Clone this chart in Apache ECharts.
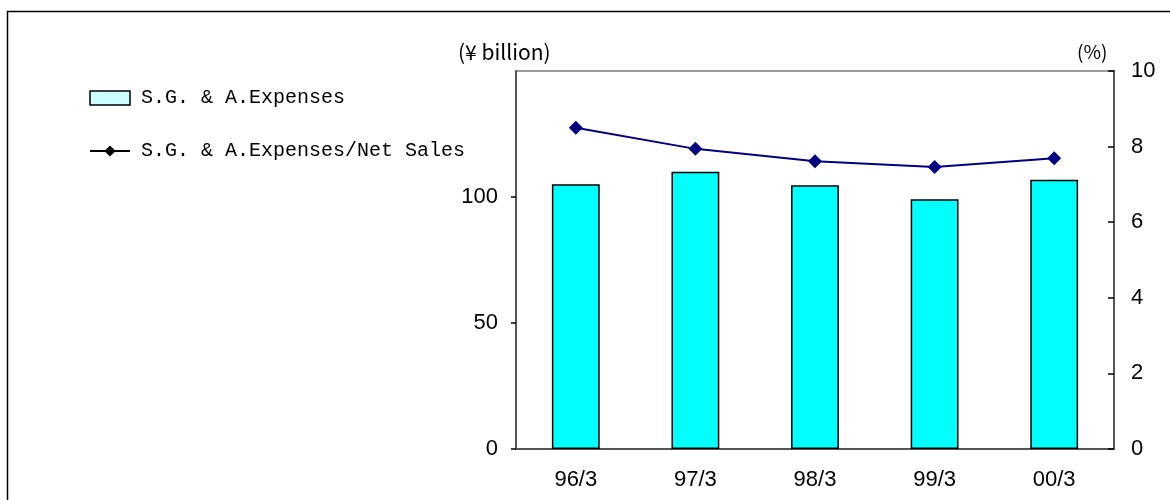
<!DOCTYPE html>
<html>
<head>
<meta charset="utf-8">
<script src="https://cdn.jsdelivr.net/npm/echarts@6/dist/echarts.min.js"></script>
<style>
  html, body { margin: 0; padding: 0; background: #fff; }
  #chart { width: 1170px; height: 500px; }
</style>
</head>
<body>
<div id="chart"></div>
<script>
// Fiscal years (March year-end)
const categories = ['96/3', '97/3', '98/3', '99/3', '00/3'];
// Selling, general & administrative expenses, ¥ billion
const sgaExpenses = [105.1, 110.0, 104.7, 99.1, 106.8];
// SG&A expenses as a share of net sales, %
const sgaRatio = [8.50, 7.94, 7.61, 7.46, 7.69];
// Axis ranges
const leftAxisRange = { min: 0, max: 150, interval: 50 };
const rightAxisRange = { min: 0, max: 10, interval: 2 };

const seriesNames = ['S.G. & A.Expenses', 'S.G. & A.Expenses/Net Sales'];

const tickFont = {
  fontFamily: '"Liberation Sans", Arial, sans-serif',
  fontSize: 22,
  color: '#000'
};

const chart = echarts.init(document.getElementById('chart'), null, { renderer: 'canvas' });

chart.setOption({
  animation: false,
  backgroundColor: '#fff',
  graphic: [
    {
      type: 'rect',
      shape: { x: 7.5, y: 11.5, width: 1300, height: 700 },
      style: { fill: 'none', stroke: '#000', lineWidth: 1.5 },
      silent: true,
      z: -1
    },
    {
      type: 'text',
      left: 458, top: 42,
      style: { text: '(¥ billion)', font: '21px "Noto Sans CJK JP", sans-serif', fill: '#000' }
    },
    {
      type: 'text',
      left: 1077, top: 42,
      style: { text: '(%)', font: '19px "Noto Sans CJK JP", sans-serif', fill: '#000' }
    }
  ],
  legend: {
    orient: 'vertical',
    left: 89,
    top: 88,
    padding: 0,
    itemWidth: 40,
    itemHeight: 14,
    itemGap: 33,
    textStyle: { fontFamily: 'Liberation Mono, monospace', fontSize: 20, color: '#000', padding: [0, 0, 0, 6] },
    data: [
      {
        name: seriesNames[0],
        icon: 'rect',
        itemStyle: { color: '#ccffff', borderColor: '#000', borderWidth: 1.5 }
      },
      {
        name: seriesNames[1],
        itemStyle: { color: '#000', borderWidth: 0 },
        lineStyle: { color: '#000', width: 2 }
      }
    ]
  },
  grid: {
    left: 516, right: 56, top: 71, bottom: 51,
    show: true, borderColor: '#7a7a7a', borderWidth: 1.5
  },
  xAxis: {
    type: 'category',
    data: categories,
    boundaryGap: true,
    axisLine: { lineStyle: { color: '#555', width: 2 } },
    axisTick: { inside: true, length: 6, lineStyle: { color: '#000', width: 1.5 } },
    axisLabel: Object.assign({ margin: 20 }, tickFont)
  },
  yAxis: [
    {
      type: 'value',
      min: leftAxisRange.min, max: leftAxisRange.max, interval: leftAxisRange.interval,
      splitLine: { show: false },
      axisLine: { show: true, lineStyle: { color: '#555', width: 2 } },
      axisTick: { show: true, length: 5, lineStyle: { color: '#000', width: 1.5 } },
      axisLabel: Object.assign({ margin: 18, showMaxLabel: false }, tickFont)
    },
    {
      type: 'value',
      position: 'right',
      min: rightAxisRange.min, max: rightAxisRange.max, interval: rightAxisRange.interval,
      splitLine: { show: false },
      axisLine: { show: true, lineStyle: { color: '#555', width: 2 } },
      axisTick: { show: true, inside: true, length: 6, lineStyle: { color: '#000', width: 1.5 } },
      axisLabel: Object.assign({ margin: 17 }, tickFont)
    }
  ],
  series: [
    {
      name: seriesNames[0],
      type: 'bar',
      yAxisIndex: 0,
      data: sgaExpenses,
      barWidth: '40%',
      itemStyle: { color: '#00ffff', borderColor: '#000', borderWidth: 1.5 }
    },
    {
      name: seriesNames[1],
      type: 'line',
      yAxisIndex: 1,
      data: sgaRatio,
      symbol: 'diamond',
      symbolSize: 14,
      lineStyle: { color: '#000080', width: 2 },
      itemStyle: { color: '#000080' },
      z: 3
    }
  ]
});
</script>
</body>
</html>
